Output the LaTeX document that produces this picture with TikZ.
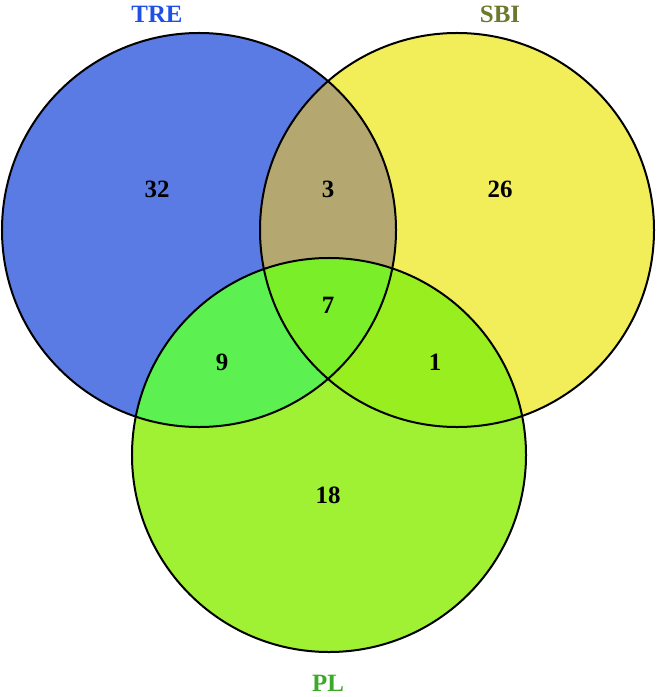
\documentclass[tikz,border=0pt]{standalone}
\usepackage{fontspec}
\setmainfont{Liberation Serif}
\usetikzlibrary{positioning}

\definecolor{trefill}{RGB}{90,123,228}
\definecolor{sbifill}{RGB}{242,238,90}
\definecolor{plfill}{RGB}{160,240,52}
\definecolor{tresbi}{RGB}{180,168,112}
\definecolor{trepl}{RGB}{92,240,80}
\definecolor{sbipl}{RGB}{152,238,30}
\definecolor{allthree}{RGB}{122,238,40}
\definecolor{trename}{RGB}{30,80,230}
\definecolor{sbiname}{RGB}{110,120,45}
\definecolor{plname}{RGB}{60,170,40}

\begin{document}
\begin{tikzpicture}[x=0.5bp, y=-0.5bp,
                    vset/.style={circle,
                      draw=black,
                      line width=1bp,
                      minimum size=197bp,
                      inner sep=0pt},
                    count/.style={font=\fontsize{12.5}{14}\selectfont\bfseries,
                      text=black},
                    setname/.style={font=\fontsize{12.5}{14}\selectfont\bfseries}]
\useasboundingbox (0,0) rectangle (660,697);
\coordinate (tre-c) at (199,230);
\coordinate (sbi-c) at (457,230);
\coordinate (pl-c) at (329,455);
% base fills
\fill[trefill] (tre-c) circle [radius=98.5bp];
\fill[sbifill] (sbi-c) circle [radius=98.5bp];
\fill[plfill] (pl-c) circle [radius=98.5bp];
% overlaps
\begin{scope}
  \clip (tre-c) circle [radius=98.5bp];
  \fill[tresbi] (sbi-c) circle [radius=98.5bp];
  \fill[trepl] (pl-c) circle [radius=98.5bp];
  \clip (sbi-c) circle [radius=98.5bp];
  \fill[allthree] (pl-c) circle [radius=98.5bp];
\end{scope}
\begin{scope}
  \clip (sbi-c) circle [radius=98.5bp];
  \clip (pl-c) circle [radius=98.5bp];
  \fill[sbipl] (0,0) rectangle (660,697);
  \clip (tre-c) circle [radius=98.5bp];
  \fill[allthree] (0,0) rectangle (660,697);
\end{scope}
% outlines
\node[vset] (tre) at (tre-c) {};
\node[vset] (sbi) at (sbi-c) {};
\node[vset] (pl) at (pl-c) {};
% set names
\node[setname, text=trename] (tre-name) at (157,14) {TRE};
\node[setname, text=sbiname] (sbi-name) at (500,14) {SBI};
\node[setname, text=plname] (pl-name) at (328,683) {PL};
% counts
\node[count] (n-tre) at (157,189) {32};
\node[count] (n-sbi) at (500,189) {26};
\node[count] (n-tresbi) at (328,189) {3};
\node[count] (n-all) at (328,305) {7};
\node[count] (n-trepl) at (222,362) {9};
\node[count] (n-sbipl) at (435,362) {1};
\node[count] (n-pl) at (328,495) {18};
\end{tikzpicture}
\end{document}
